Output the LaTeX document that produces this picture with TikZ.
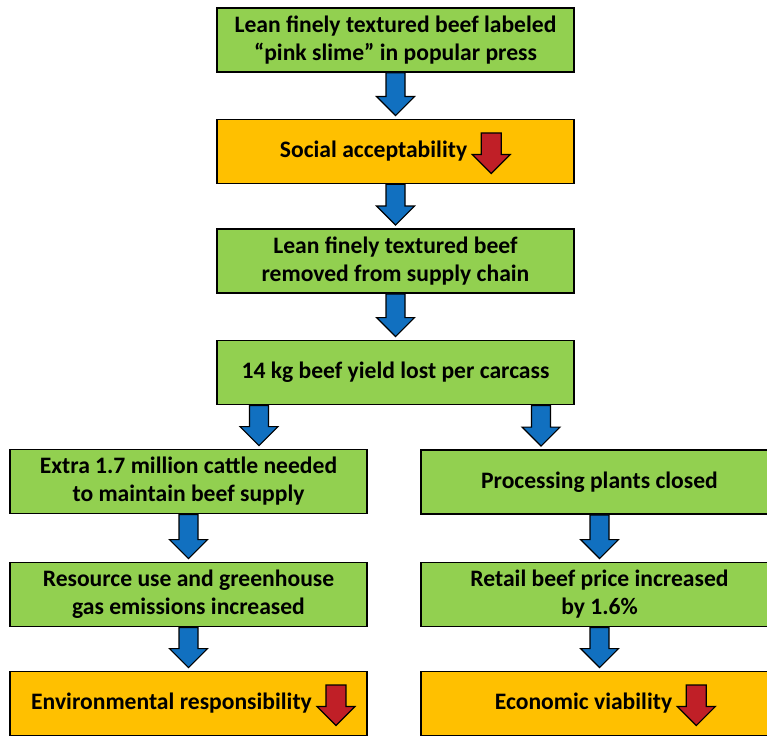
\documentclass[tikz,border=0pt]{standalone}
\usepackage{fontspec}
\setmainfont{Carlito}
\usetikzlibrary{calc}
\definecolor{leafgreen}{HTML}{92D050}
\definecolor{gold}{HTML}{FFC000}
\definecolor{flowblue}{HTML}{1170C0}
\definecolor{dropred}{HTML}{C01F27}
\newcommand{\boxw}{357pt}
\newcommand{\boxh}{64pt}
\newcommand{\shaft}{9.5pt}
\newcommand{\head}{19pt}
\newcommand{\gap}{3pt}
% block arrow: style, from, to
\newcommand{\blockarrow}[3]{%
\draw[#1] let \p1=(#2), \p2=(#3) in
  (\x1-\shaft,\y1) -- (\x1+\shaft,\y1) -- (\x1+\shaft,\y2+\gap+\head) -- (\x1+\head,\y2+\gap+\head)
  -- (\x1,\y2+\gap) -- (\x1-\head,\y2+\gap+\head) -- (\x1-\shaft,\y2+\gap+\head) -- cycle;}
% red drop arrow right of a label
\newcommand{\droparrow}[1]{%
\draw[drop] let \p1=(#1) in
  (\x1+14pt,\y1+18.5pt) -- (\x1+34pt,\y1+18.5pt) -- (\x1+34pt,\y1-3pt) -- (\x1+43pt,\y1-3pt)
  -- (\x1+24pt,\y1-22pt) -- (\x1+5pt,\y1-3pt) -- (\x1+14pt,\y1-3pt) -- cycle;}

\begin{document}
\begin{tikzpicture}[x=1pt,y=-1pt,
  txt/.style={font=\bfseries\fontsize{23.6}{28}\selectfont, align=center},
  label/.style={txt, inner sep=0pt},
  greenbox/.style={txt, draw=black, line width=1.8pt, fill=leafgreen, minimum width=\boxw, minimum height=\boxh, inner sep=0pt},
  goldbox/.style={greenbox, fill=gold},
  flow/.style={draw=black, line width=1.2pt, line join=miter, fill=flowblue},
  drop/.style={draw=black, line width=1.2pt, line join=miter, fill=dropred}]
\useasboundingbox (0,0) rectangle (767,735);
\node[greenbox] (1) at (395.5,40) {Lean finely textured beef labeled\\``pink slime'' in popular press};
\node[goldbox] (2) at (395.5,151.5) {};
\node[label] (2t) at (373.5,151.5) {Social acceptability};
\node[greenbox] (3) at (395.5,261) {Lean finely textured beef\\removed from supply chain};
\node[greenbox] (4) at (395.5,372.5) {14 kg beef yield lost per carcass};
\node[greenbox] (5) at (188.5,481.5) {Extra 1.7 million cattle needed\\to maintain beef supply};
\node[greenbox] (6) at (599.5,482) {Processing plants closed};
\node[greenbox] (7) at (188.5,594.5) {Resource use and greenhouse\\gas emissions increased};
\node[greenbox] (8) at (599.5,594.5) {Retail beef price increased\\by 1.6\%};
\node[goldbox] (9) at (188.5,703.5) {};
\node[label] (9t) at (171.5,703.5) {Environmental responsibility};
\node[goldbox] (10) at (599.5,703.5) {};
\node[label] (10t) at (583.5,703.5) {Economic viability};
\coordinate (L) at (259,0);
\coordinate (R) at (541,0);
%red arrows
\droparrow{2t.east}
\droparrow{9t.east}
\droparrow{10t.east}
%blue arrows
\blockarrow{flow}{1.south}{2.north}
\blockarrow{flow}{2.south}{3.north}
\blockarrow{flow}{3.south}{4.north}
\blockarrow{flow}{4.south -| L}{5.north -| L}
\blockarrow{flow}{4.south -| R}{6.north -| R}
\blockarrow{flow}{5.south}{7.north}
\blockarrow{flow}{7.south}{9.north}
\blockarrow{flow}{6.south}{8.north}
\blockarrow{flow}{8.south}{10.north}
\end{tikzpicture}
\end{document}
